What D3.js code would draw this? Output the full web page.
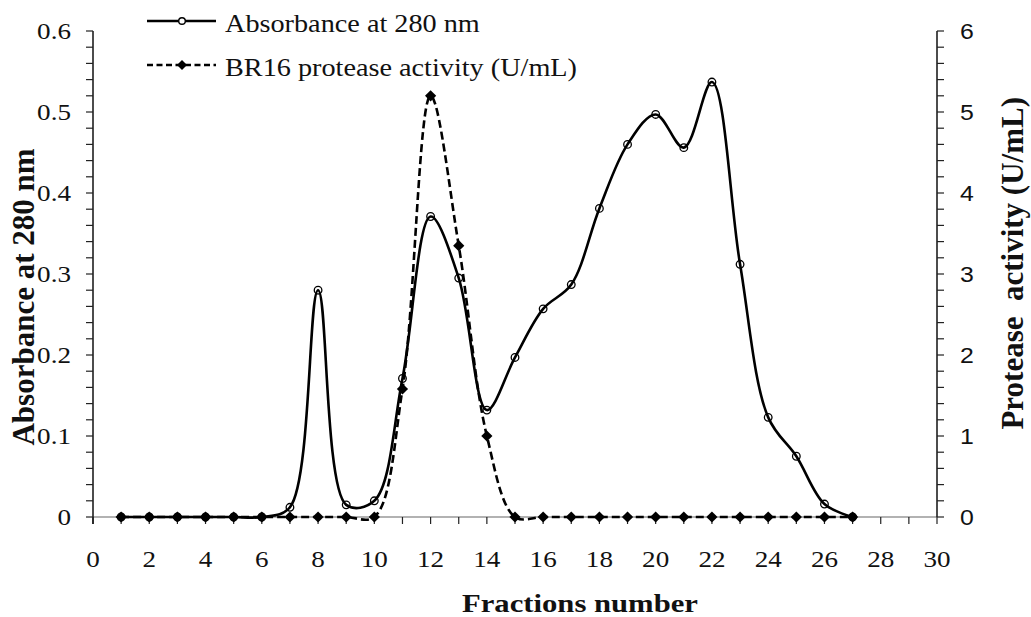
<!DOCTYPE html>
<html>
<head>
<meta charset="utf-8">
<script src="https://cdn.jsdelivr.net/npm/d3@7"></script>
<style>
  html, body { margin: 0; padding: 0; background: #fff; }
  svg { display: block; }
  .serif { font-family: "Liberation Serif", "Times New Roman", serif; }
  .sans { font-family: "Liberation Sans", Arial, sans-serif; }
</style>
</head>
<body>
<svg id="chart" width="1031" height="617"></svg>
<script>
// Fraction numbers and the two measured series
const fractions = [1,2,3,4,5,6,7,8,9,10,11,12,13,14,15,16,17,18,19,20,21,22,23,24,25,26,27];
const absorbance = [0,0,0,0,0,0,0.012,0.280,0.015,0.020,0.171,0.371,0.295,0.132,0.197,0.257,0.287,0.381,0.460,0.497,0.456,0.537,0.312,0.123,0.075,0.016,0];
const activity = [0,0,0,0,0,0,0,0,0,0,1.58,5.20,3.35,1.00,0,0,0,0,0,0,0,0,0,0,0,0,0];

const xTicks = [0,2,4,6,8,10,12,14,16,18,20,22,24,26,28,30];
const leftTicks = [0,0.1,0.2,0.3,0.4,0.5,0.6];
const rightTicks = [0,1,2,3,4,5,6];

const seriesNames = ["Absorbance at 280 nm", "BR16 protease activity (U/mL)"];
const xTitle = "Fractions number";
const leftTitle = "Absorbance at 280 nm";
const rightTitle = "Protease\u00a0 activity (U/mL)";

const svg = d3.select("#chart");
const plotL = 93, plotR = 937, plotT = 31, plotB = 517;

const x = d3.scaleLinear().domain([0, 30]).range([plotL, plotR]);
const yL = d3.scaleLinear().domain([0, 0.6]).range([plotB, plotT]);
const yR = d3.scaleLinear().domain([0, 6]).range([plotB, plotT]);

// Horizontal text is slightly wide in this layout
const SX = 1.13;

// ---- axes ----
// bottom axis: ticks every fraction, labels every 2
const xAxis = svg.append("g").attr("transform", `translate(0,${plotB})`);
xAxis.append("line").attr("x1", plotL).attr("x2", plotR).attr("stroke", "#666").attr("stroke-width", 1.2);
xAxis.selectAll("line.t").data(d3.range(0, 31)).join("line").attr("class", "t")
  .attr("x1", d => x(d)).attr("x2", d => x(d)).attr("y1", 0).attr("y2", 7)
  .attr("stroke", "#222").attr("stroke-width", 1.2);
xAxis.selectAll("text").data(xTicks).join("text").attr("class", "serif")
  .attr("transform", d => `translate(${x(d)},50) scale(${SX},1)`)
  .attr("text-anchor", "middle").attr("font-size", 24).attr("fill", "#111")
  .text(d => d);

// left axis
const lAxis = svg.append("g");
lAxis.append("line").attr("x1", plotL).attr("x2", plotL).attr("y1", plotT).attr("y2", plotB + 7)
  .attr("stroke", "#111").attr("stroke-width", 1.5);
lAxis.selectAll("line.t").data(d3.range(0, 31).map(i => i * 0.02)).join("line").attr("class", "t")
  .attr("x1", plotL - 7).attr("x2", plotL).attr("y1", d => yL(d)).attr("y2", d => yL(d))
  .attr("stroke", "#222").attr("stroke-width", 1.2);
lAxis.selectAll("text").data(leftTicks).join("text").attr("class", "serif")
  .attr("transform", d => `translate(71,${yL(d) + 8}) scale(${SX},1)`)
  .attr("text-anchor", "end").attr("font-size", 24).attr("fill", "#111")
  .text(d => d === 0 ? "0" : d3.format(".1f")(d));

// right axis
const rAxis = svg.append("g");
rAxis.append("line").attr("x1", plotR).attr("x2", plotR).attr("y1", plotT).attr("y2", plotB)
  .attr("stroke", "#111").attr("stroke-width", 1.5);
rAxis.selectAll("line.t").data(d3.range(0, 31).map(i => i * 0.2)).join("line").attr("class", "t")
  .attr("x1", plotR).attr("x2", plotR + 7).attr("y1", d => yR(d)).attr("y2", d => yR(d))
  .attr("stroke", "#222").attr("stroke-width", 1.2);
rAxis.selectAll("text").data(rightTicks).join("text").attr("class", "sans")
  .attr("transform", d => `translate(960,${yR(d) + 8}) scale(${SX},1)`)
  .attr("text-anchor", "start").attr("font-size", 22).attr("fill", "#111")
  .text(d => d);

// ---- axis titles ----
svg.append("text").attr("class", "serif")
  .attr("transform", `translate(462,612) scale(1.18,1)`)
  .attr("font-size", 26).attr("font-weight", "bold").attr("fill", "#111")
  .text(xTitle);
svg.append("text").attr("class", "serif")
  .attr("transform", `translate(34,297) rotate(-90)`)
  .attr("text-anchor", "middle").attr("font-size", 31).attr("font-weight", "bold").attr("fill", "#111")
  .text(leftTitle);
svg.append("text").attr("class", "serif")
  .attr("transform", `translate(1023,97) rotate(-90)`)
  .attr("text-anchor", "end").attr("font-size", 31).attr("font-weight", "bold").attr("fill", "#111")
  .text(rightTitle);

// ---- series ----
// centripetal Catmull-Rom keeps the smoothed line from overshooting near short steps
const smooth = d3.curveCatmullRom.alpha(0.5);
const absPts = fractions.map((f, i) => [f, absorbance[i]]);
const actPts = fractions.map((f, i) => [f, activity[i]]);

svg.append("path").datum(absPts)
  .attr("d", d3.line().x(d => x(d[0])).y(d => yL(d[1])).curve(smooth))
  .attr("fill", "none").attr("stroke", "#000").attr("stroke-width", 2.6);
svg.append("g").selectAll("circle").data(absPts).join("circle")
  .attr("cx", d => x(d[0])).attr("cy", d => yL(d[1])).attr("r", 3.8)
  .attr("fill", "none").attr("stroke", "#000").attr("stroke-width", 1.3);

svg.append("path").datum(actPts)
  .attr("d", d3.line().x(d => x(d[0])).y(d => yR(d[1])).curve(smooth))
  .attr("fill", "none").attr("stroke", "#000").attr("stroke-width", 2.6)
  .attr("stroke-dasharray", "8,4");
const diamond = d3.symbol().type(d3.symbolDiamond2).size(80);
svg.append("g").selectAll("path").data(actPts).join("path")
  .attr("transform", d => `translate(${x(d[0])},${yR(d[1])})`)
  .attr("d", diamond).attr("fill", "#000");

// ---- legend ----
const legend = svg.append("g");
const rows = [
  { y: 21, dash: null, marker: "circle" },
  { y: 65, dash: "6,3.5", marker: "diamond" }
];
rows.forEach((r, i) => {
  legend.append("line").attr("x1", 147).attr("x2", 216).attr("y1", r.y).attr("y2", r.y)
    .attr("stroke", "#000").attr("stroke-width", 2.6).attr("stroke-dasharray", r.dash);
  if (r.marker === "circle") {
    legend.append("circle").attr("cx", 182).attr("cy", r.y).attr("r", 3.3)
      .attr("fill", "#fff").attr("stroke", "#000").attr("stroke-width", 1.4);
  } else {
    legend.append("path").attr("transform", `translate(182,${r.y})`)
      .attr("d", d3.symbol().type(d3.symbolDiamond2).size(64)).attr("fill", "#000");
  }
  legend.append("text").attr("class", "serif")
    .attr("transform", `translate(225,${r.y + 11}) scale(${SX},1)`)
    .attr("font-size", 25).attr("fill", "#111")
    .text(seriesNames[i]);
});
</script>
</body>
</html>
